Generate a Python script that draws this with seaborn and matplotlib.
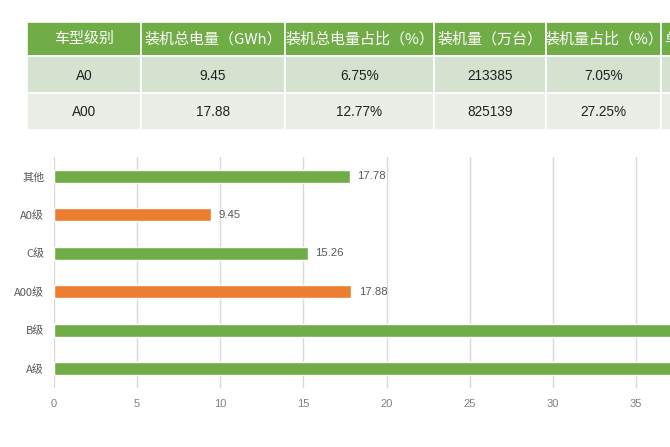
import matplotlib
matplotlib.use("Agg")
import matplotlib.pyplot as plt
from matplotlib.patches import Rectangle
import seaborn as sns
import pandas as pd

# ---- data ----
categories = ["其他", "A0级", "C级", "A00级", "B级", "A级"]
energy_gwh = [17.78, 9.45, 15.26, 17.88, 38.6, 41.0]
bar_colors = ["#70AD47", "#ED7D31", "#70AD47", "#ED7D31", "#70AD47", "#70AD47"]
x_ticks = [0, 5, 10, 15, 20, 25, 30, 35]

table_header = ["车型级别", "装机总电量（GWh）", "装机总电量占比（%）", "装机量（万台）", "装机量占比（%）", "单车平均带电量（kWh）"]
row_a0 = ["A0", "9.45", "6.75%", "213385", "7.05%", ""]
row_a00 = ["A00", "17.88", "12.77%", "825139", "27.25%", ""]

sns.set_theme(style="white")
plt.rcParams["font.family"] = ["Noto Sans CJK SC", "DejaVu Sans"]

fig = plt.figure(figsize=(6.7, 4.47), dpi=100)

# ---- table (pixel coordinate overlay) ----
axt = fig.add_axes([0, 0, 1, 1])
axt.set_xlim(0, 670)
axt.set_ylim(447, 0)
axt.axis("off")
col_edges = [27, 141, 285, 434, 546, 661, 800]
row_edges = [22, 56, 93, 130]
row_fills = ["#70AD47", "#D5E2CF", "#E9EFE6"]
rows = [table_header, row_a0, row_a00]
for r, (cells, fill) in enumerate(zip(rows, row_fills)):
    y0, y1 = row_edges[r], row_edges[r + 1]
    for c, txt in enumerate(cells):
        x0, x1 = col_edges[c], col_edges[c + 1]
        axt.add_patch(Rectangle((x0, y0), x1 - x0, y1 - y0, facecolor=fill,
                                edgecolor="white", linewidth=1.2))
        if txt:
            if r == 0:
                if c == len(cells) - 1:
                    # last column is cut by the picture edge, as in the source
                    axt.text(x0 + 3, (y0 + y1) / 2, txt, ha="left", va="center",
                             fontsize=10.8, color="white",
                             family=["Noto Sans CJK SC", "DejaVu Sans"], clip_on=True)
                else:
                    axt.text((x0 + x1) / 2, (y0 + y1) / 2, txt, ha="center", va="center",
                             fontsize=10.8, color="white",
                             family=["Noto Sans CJK SC", "DejaVu Sans"], clip_on=True)
            else:
                axt.text((x0 + x1) / 2, (y0 + y1) / 2 + 1, txt, ha="center", va="center",
                         fontsize=9.8, color="#222222",
                         family=["Liberation Sans", "DejaVu Sans"], clip_on=True)

# ---- bar chart ----
ax = fig.add_axes([54 / 670, 1 - 388 / 447, 1 - 54 / 670, (388 - 157) / 447])
df = pd.DataFrame({"cat": categories, "val": energy_gwh})
sns.barplot(data=df, x="val", y="cat", hue="cat", palette=bar_colors, order=categories,
            width=0.34, legend=False, ax=ax, saturation=1)
ax.set_xlim(0, 37.04)
ax.set_ylim(5.5, -0.5)
ax.set_xticks(x_ticks)
ax.set_xlabel("")
ax.set_ylabel("")
ax.grid(axis="x", color="#D9D9D9", linewidth=1)
ax.set_axisbelow(True)
for s in ax.spines.values():
    s.set_visible(False)
ax.tick_params(axis="x", length=0, pad=8, labelsize=8, labelcolor="#808080")
ax.tick_params(axis="y", length=0, pad=7, labelsize=8, labelcolor="#595959")
for lab in ax.get_xticklabels():
    lab.set_family(["Liberation Sans", "DejaVu Sans"])
xmax = ax.get_xlim()[1]
for i, v in enumerate(energy_gwh):
    if v + 0.45 < xmax:  # labels of bars running past the edge are off-picture in the source
        ax.text(v + 0.45, i, f"{v:.2f}", va="center", ha="left", fontsize=8.2,
                color="#595959", family=["Liberation Sans", "DejaVu Sans"], clip_on=False)

fig.savefig("out.png", dpi=100)
